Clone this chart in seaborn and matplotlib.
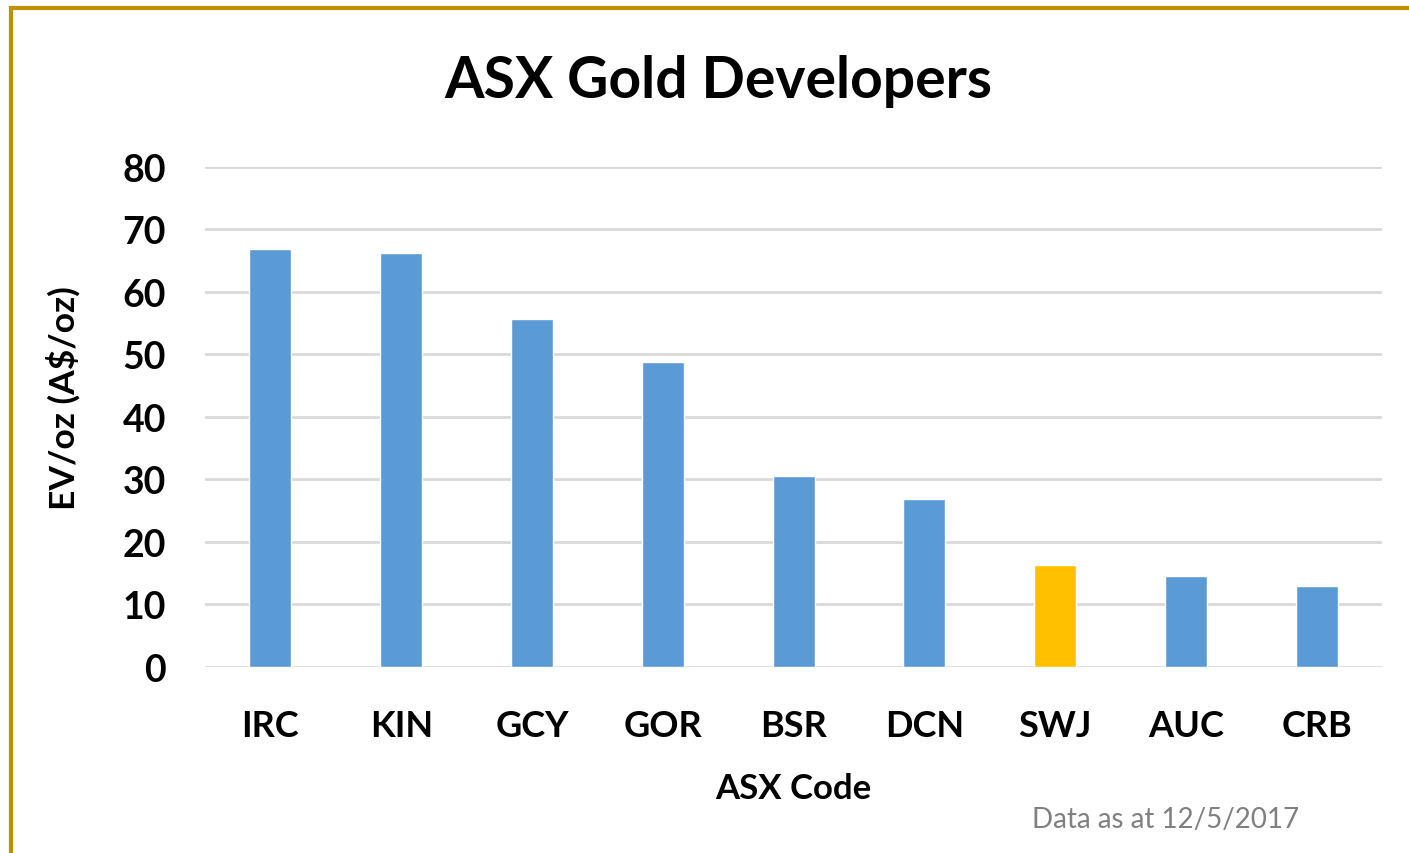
import pandas as pd
import seaborn as sns
import matplotlib
import matplotlib.pyplot as plt
from matplotlib.lines import Line2D

matplotlib.use("Agg")

codes = ["IRC", "KIN", "GCY", "GOR", "BSR", "DCN", "SWJ", "AUC", "CRB"]
ev_oz = [66.8, 66.2, 55.7, 48.8, 30.6, 26.9, 16.3, 14.6, 12.9]
highlight = "SWJ"

df = pd.DataFrame({"code": codes, "ev_oz": ev_oz})
palette = {c: ("#FFC000" if c == highlight else "#5B9BD5") for c in codes}

sns.set_style("white")
plt.rcParams["font.family"] = ["Lato", "DejaVu Sans"]
plt.rcParams["text.color"] = "black"
plt.rcParams["axes.labelcolor"] = "black"
plt.rcParams["xtick.color"] = "black"
plt.rcParams["ytick.color"] = "black"

fig = plt.figure(figsize=(14.09, 8.54), dpi=100)
ax = fig.add_axes([0.1455, 0.2178, 0.981 - 0.1455, 0.8033 - 0.2178])

sns.barplot(data=df, x="code", y="ev_oz", hue="code", palette=palette,
            width=0.32, legend=False, saturation=1, ax=ax)

ax.set_ylim(0, 80)
ax.set_yticks(range(0, 81, 10))
ax.yaxis.grid(True, color="#D9D9D9", linewidth=2)
ax.set_axisbelow(True)
for s in ax.spines.values():
    s.set_visible(False)
ax.tick_params(length=0)
ax.tick_params(axis="y", labelsize=27, pad=28)
ax.tick_params(axis="x", labelsize=26, pad=30)
for lbl in ax.get_xticklabels() + ax.get_yticklabels():
    lbl.set_fontweight("bold")

ax.set_xlabel("ASX Code", fontsize=25, fontweight="bold", labelpad=22)
ax.set_ylabel("EV/oz (A$/oz)", fontsize=25.5, fontweight="bold", labelpad=30)
ax.yaxis.label.set_y(0.54)

fig.text(0.51, 0.905, "ASX Gold Developers", ha="center", va="center",
         fontsize=41, fontweight="bold")
fig.text(0.922, 0.04, "Data as at 12/5/2017", ha="right", va="center",
         fontsize=20, color="#808080")

# gold frame (top and left edges)
gold = "#BF9000"
fig.add_artist(Line2D([10.5 / 1409, 1], [1 - 8.5 / 854, 1 - 8.5 / 854],
                      transform=fig.transFigure, color=gold, linewidth=3))
fig.add_artist(Line2D([10.5 / 1409, 10.5 / 1409], [0, 1 - 8.5 / 854],
                      transform=fig.transFigure, color=gold, linewidth=3,
                      solid_capstyle="projecting"))

fig.savefig("out.png", dpi=100)
